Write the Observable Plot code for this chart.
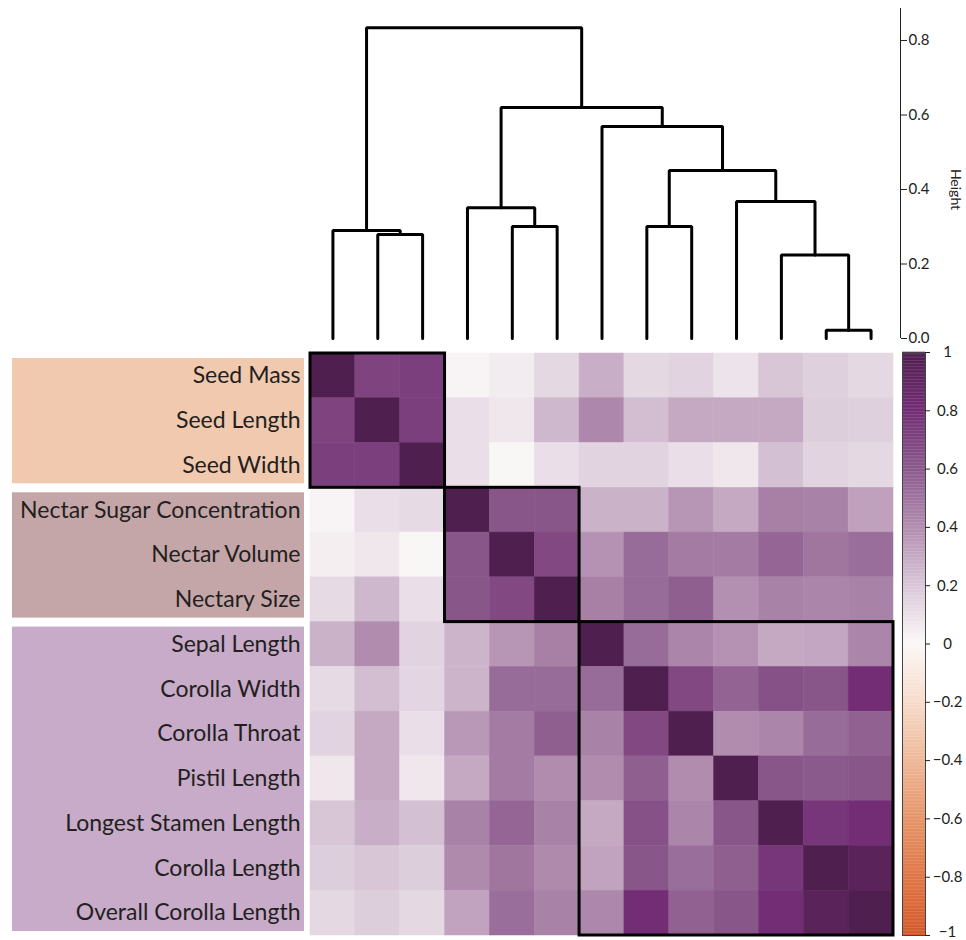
<!DOCTYPE html>
<html><head><meta charset="utf-8">
<script src="https://cdn.jsdelivr.net/npm/d3@7"></script>
<script src="https://cdn.jsdelivr.net/npm/@observablehq/plot@0.6"></script>
<style>
body{margin:0;background:#fff;font-family:Lato,"Open Sans",sans-serif;}
#chart{position:relative;width:966px;height:940px;overflow:hidden;background:#fff;}
#chart > div{position:absolute;}
</style></head><body><div id="chart">
<div id="dendro" style="left:0;top:0"></div>
<div id="labels" style="left:0;top:345px"></div>
<div id="heat" style="left:306px;top:345px"></div>
<div id="cbar" style="left:897px;top:335px"></div>
</div>
<script>
// ---- data ----
const variables = ["Seed Mass","Seed Length","Seed Width","Nectar Sugar Concentration","Nectar Volume","Nectary Size",
  "Sepal Length","Corolla Width","Corolla Throat","Pistil Length","Longest Stamen Length","Corolla Length","Overall Corolla Length"];
const groupOf = [0,0,0,1,1,1,2,2,2,2,2,2,2];
const groupFill = ["#f1c9ae","#c5a6a8","#c7abc9"];
const corr = [
  [1.00,0.70,0.72,0.02,0.05,0.13,0.28,0.13,0.15,0.08,0.20,0.16,0.13],
  [0.70,1.00,0.72,0.10,0.07,0.25,0.42,0.23,0.30,0.30,0.30,0.17,0.16],
  [0.72,0.72,1.00,0.10,0.01,0.10,0.15,0.15,0.10,0.07,0.22,0.15,0.13],
  [0.02,0.10,0.12,1.00,0.62,0.62,0.27,0.27,0.37,0.30,0.45,0.44,0.33],
  [0.04,0.07,0.01,0.62,1.00,0.68,0.38,0.53,0.47,0.47,0.55,0.49,0.52],
  [0.12,0.25,0.10,0.62,0.68,1.00,0.45,0.53,0.58,0.39,0.44,0.43,0.44],
  [0.27,0.40,0.15,0.26,0.37,0.45,1.00,0.53,0.43,0.38,0.30,0.31,0.43],
  [0.12,0.23,0.14,0.26,0.53,0.53,0.53,1.00,0.68,0.56,0.64,0.62,0.80],
  [0.15,0.30,0.10,0.36,0.47,0.58,0.44,0.68,1.00,0.40,0.43,0.53,0.57],
  [0.07,0.30,0.07,0.30,0.47,0.40,0.40,0.58,0.40,1.00,0.62,0.60,0.62],
  [0.20,0.28,0.22,0.44,0.55,0.44,0.30,0.64,0.43,0.62,1.00,0.76,0.80],
  [0.17,0.20,0.17,0.41,0.49,0.41,0.32,0.62,0.52,0.58,0.76,1.00,0.94],
  [0.13,0.17,0.13,0.32,0.52,0.44,0.42,0.80,0.57,0.62,0.80,0.94,1.00]
];
// dendrogram merges: [left id, right id, height]; ids 0..12 are leaves, 13+k is merge k
const merges = [[1,2,0.279],[0,13,0.290],[4,5,0.301],[3,15,0.351],[7,8,0.301],[11,12,0.022],
  [10,18,0.224],[9,19,0.368],[17,20,0.451],[6,21,0.569],[16,22,0.620],[14,23,0.834]];
const heightTicks = [0,0.2,0.4,0.6,0.8];
const colorStops = [-1,-0.8,-0.6,-0.4,-0.2,0,0.2,0.4,0.6,0.8,1];
const colorRange = ["#d6592a","#df7747","#e69569","#eeb898","#f6dccb","#fbf8f8","#d8c6d7","#b18caf","#8b5a8c","#722d74","#4f1f4f"];
const colorTicks = [-1,-0.8,-0.6,-0.4,-0.2,0,0.2,0.4,0.6,0.8,1];

// ---- derived tables ----
const n = variables.length;
const nodeX = [], nodeH = [];
for (let i = 0; i < n; i++) { nodeX.push(i + 0.5); nodeH.push(0); }
const linkPts = [];
merges.forEach(([a, b, h], k) => {
  nodeX.push((nodeX[a] + nodeX[b]) / 2); nodeH.push(h);
  linkPts.push({k, x: nodeX[a], h: nodeH[a]}, {k, x: nodeX[a], h}, {k, x: nodeX[b], h}, {k, x: nodeX[b], h: nodeH[b]});
});
const cells = [];
corr.forEach((row, i) => row.forEach((v, j) => cells.push({i, j, v})));
const spans = [];
groupOf.forEach((g, i) => {
  const last = spans[spans.length - 1];
  if (last && last.g === g) last.e = i + 1; else spans.push({g, s: i, e: i + 1});
});
const rows = variables.map((v, i) => ({v, i}));
const bar = d3.range(-1, 1, 0.005).map(v => ({v}));
const font = "Lato, 'Open Sans', sans-serif";

// ---- dendrogram ----
document.getElementById("dendro").appendChild(Plot.plot({
  width: 966, height: 345, marginLeft: 310, marginRight: 73, marginTop: 8, marginBottom: 7,
  style: {background: "transparent", fontFamily: font, fontSize: "15px", color: "#222"},
  x: {domain: [0, 13], axis: null},
  y: {domain: [0, 0.886], axis: null},
  marks: [
    Plot.line(linkPts, {x: "x", y: "h", z: "k", stroke: "black", strokeWidth: 3, strokeLinejoin: "miter"}),
    Plot.ruleX([13], {y1: 0, y2: 0.886, dx: 7, stroke: "#222", strokeWidth: 1}),
    Plot.axisY({anchor: "right", ticks: heightTicks, dx: 7, tickSize: 6, tickPadding: 2, tickFormat: d3.format(".1f"), label: null, fontSize: 15}),
    Plot.text(["Height"], {x: 13, y: 0.4, dx: 62, rotate: 90, fontSize: 14, fill: "#222"})
  ]
}));

// ---- row labels with group backgrounds ----
document.getElementById("labels").appendChild(Plot.plot({
  width: 306, height: 595, marginLeft: 12, marginRight: 2, marginTop: 8, marginBottom: 5,
  style: {background: "transparent", fontFamily: font},
  x: {domain: [0, 1], axis: null},
  y: {domain: [0, 13], reverse: true, axis: null},
  color: {type: "identity"},
  marks: [
    Plot.rect(spans, {x1: 0, x2: 1, y1: "s", y2: "e", fill: d => groupFill[d.g], insetTop: 5, insetBottom: 4}),
    Plot.text(rows, {x: 1, y: d => d.i + 0.5, text: "v", textAnchor: "end", dx: -4, fontSize: 23, fill: "#231f20"})
  ]
}));

// ---- heatmap ----
const colorScale = {type: "linear", domain: colorStops, range: colorRange};
document.getElementById("heat").appendChild(Plot.plot({
  width: 591, height: 595, marginLeft: 4, marginRight: 4, marginTop: 8, marginBottom: 5,
  style: {background: "transparent"},
  x: {domain: [0, 13], axis: null},
  y: {domain: [0, 13], reverse: true, axis: null},
  color: colorScale,
  marks: [
    Plot.rect(cells, {x1: "j", x2: d => d.j + 1, y1: "i", y2: d => d.i + 1, fill: "v", stroke: "v", strokeWidth: 0.5}),
    Plot.rect(spans, {x1: "s", x2: "e", y1: "s", y2: "e", fill: "none", stroke: "black", strokeWidth: 3})
  ]
}));

// ---- colour bar ----
const fmt = v => v === 0 ? "0" : (v < 0 ? "\u2212" : "") + d3.format("~g")(Math.abs(+v.toFixed(1)));
const tickLabelOpts = {x: 1, y: d => d, text: fmt, dx: 22, textAnchor: "middle", fontSize: 15, fill: "#222"};
document.getElementById("cbar").appendChild(Plot.plot({
  width: 69, height: 605, marginLeft: 5, marginRight: 41, marginTop: 17, marginBottom: 5,
  style: {background: "transparent", fontFamily: font, fontSize: "15px", color: "#222"},
  x: {domain: [0, 1], axis: null},
  y: {domain: [-1, 1], axis: null},
  color: colorScale,
  marks: [
    Plot.rect(bar, {x1: 0, x2: 1, y1: "v", y2: d => d.v + 0.006, fill: "v"}),
    Plot.frame({stroke: "#444", strokeWidth: 1}),
    Plot.ruleY(colorTicks, {x1: 1, x2: 1.22, stroke: "#222", strokeWidth: 1}),
    Plot.text(colorTicks.filter(v => v > -1), tickLabelOpts),
    Plot.text(colorTicks.filter(v => v === -1), {...tickLabelOpts, dy: -3})
  ]
}));
</script></body></html>
